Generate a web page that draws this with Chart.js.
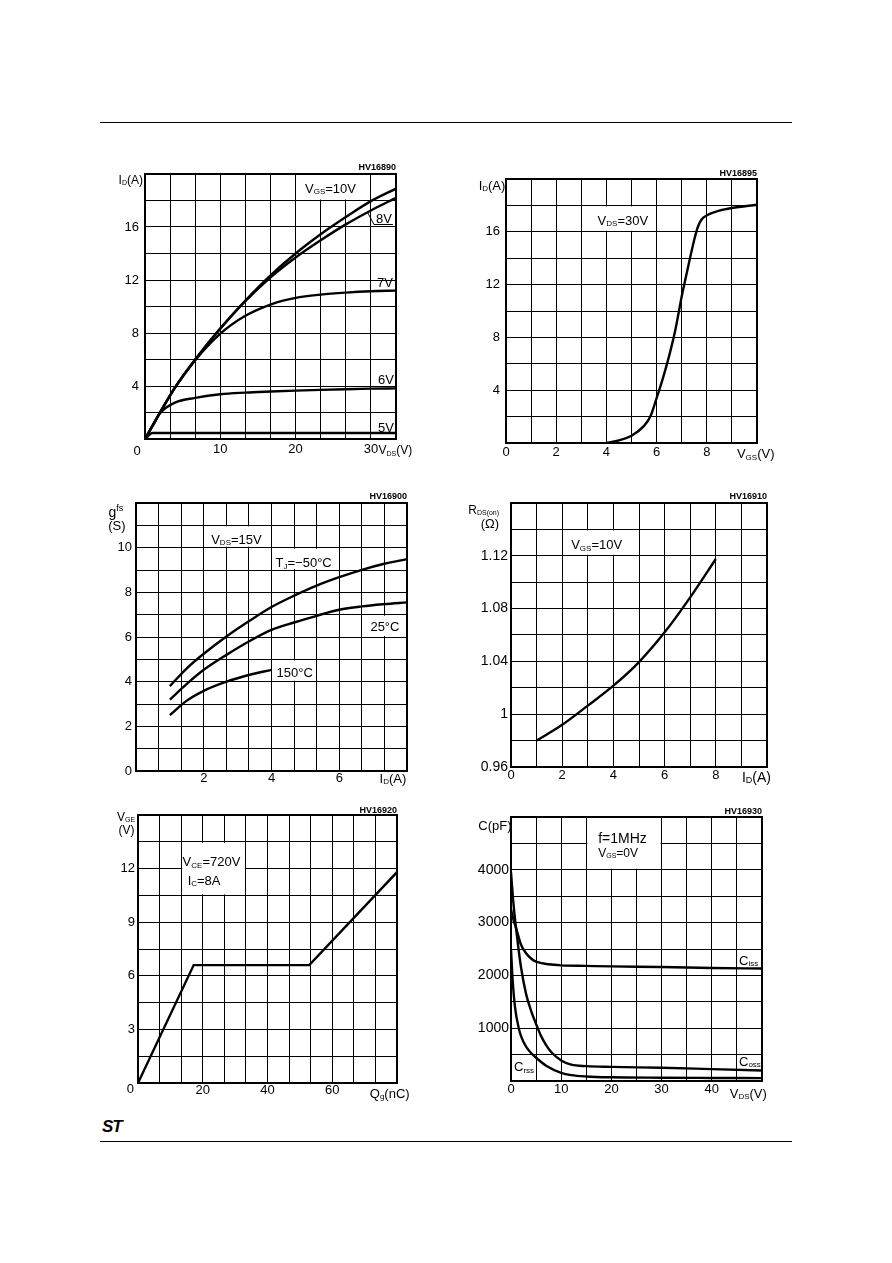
<!DOCTYPE html>
<html>
<head>
<meta charset="utf-8">
<script src="https://cdn.jsdelivr.net/npm/chart.js@4.4.1/dist/chart.umd.min.js"></script>
<style>
  body { margin: 0; background: #fff; width: 892px; height: 1263px; position: relative; overflow: hidden; }
  .rule { position: absolute; left: 100px; width: 692px; height: 1px; background: #000; }
  canvas { position: absolute; }
  .logo { position: absolute; left: 102px; top: 1117px; font: italic bold 17px "Liberation Sans", Arial, sans-serif; letter-spacing: -1px; }
</style>
</head>
<body>
<div class="rule" style="top:122px"></div>
<canvas id="c1"></canvas>
<canvas id="c2"></canvas>
<canvas id="c3"></canvas>
<canvas id="c4"></canvas>
<canvas id="c5"></canvas>
<canvas id="c6"></canvas>
<div class="rule" style="top:1141px"></div>
<div class="logo">ST</div>
<script>
// ---- 出力特性 ID - VDS
const outVds = [0, 1, 2, 4, 6.67, 10, 13.33, 16.67, 20, 23.33, 26.67, 30, 33.33];
const outId10V = [0, 1.0, 2.0, 3.9, 6.0, 8.35, 10.45, 12.35, 14.0, 15.45, 16.75, 17.95, 18.9];
const outId8V = [0, 1.0, 2.0, 3.9, 6.0, 8.32, 10.4, 12.2, 13.7, 15.0, 16.2, 17.25, 18.2];
const outId7V = [0, 1.0, 2.0, 3.9, 5.95, 7.95, 9.3, 10.15, 10.65, 10.9, 11.05, 11.15, 11.2];
const outId6V = [0, 1.0, 1.95, 2.75, 3.1, 3.38, 3.5, 3.58, 3.65, 3.71, 3.76, 3.8, 3.82];
const outId5V = [0, 0.45, 0.45, 0.45, 0.45, 0.45, 0.45, 0.45, 0.45, 0.45, 0.45, 0.45, 0.45];
const outXLabels = [10, 20, 30];
const outYLabels = [4, 8, 12, 16];

// ---- 伝達特性 ID - VGS
const trVgs = [4, 4.5, 5, 5.5, 5.75, 6, 6.25, 6.5, 6.75, 7, 7.25, 7.5, 7.65, 7.8, 8, 8.5, 9, 10];
const trId = [0, 0.2, 0.55, 1.3, 2.0, 3.4, 4.9, 6.6, 8.6, 11.1, 13.3, 15.4, 16.4, 16.95, 17.25, 17.6, 17.8, 18.05];
const trXLabels = [0, 2, 4, 6, 8];
const trYLabels = [4, 8, 12, 16];

// ---- 相互コンダクタンス gfs - ID
const gfsId = [1, 1.5, 2, 2.67, 3.33, 4, 4.67, 5.33, 6, 6.67, 7.33, 8];
const gfsM50 = [3.8, 4.6, 5.25, 6.02, 6.7, 7.34, 7.85, 8.3, 8.68, 9.01, 9.28, 9.49];
const gfs25 = [3.2, 3.9, 4.53, 5.2, 5.8, 6.32, 6.65, 6.95, 7.22, 7.37, 7.47, 7.55];
const gfsId150 = [1, 1.5, 2, 2.67, 3.33, 4];
const gfs150 = [2.5, 3.15, 3.59, 4.0, 4.3, 4.53];
const gfsXLabels = [2, 4, 6];
const gfsYLabels = [0, 2, 4, 6, 8, 10];

// ---- オン抵抗 RDS(on) - ID
const ronId = [1, 2, 3, 4, 5, 6, 7, 8];
const ronR = [0.98, 0.992, 1.0065, 1.0216, 1.0395, 1.062, 1.0885, 1.1176];
const ronXLabels = [0, 2, 4, 6, 8];
const ronYLabels = [0.96, 1, 1.04, 1.08, 1.12];

// ---- ゲート電荷 VGE - Qg
const qgQ = [0, 17.2, 52.9, 80];
const qgV = [0, 6.6, 6.6, 11.8];
const qgXLabels = [20, 40, 60];
const qgYLabels = [3, 6, 9, 12];

// ---- 容量 C - VDS
const cissV = [0, 0.5, 1, 2, 3, 4, 5, 7.5, 10, 15, 20, 30, 40, 50];
const cissC = [3250, 3050, 2900, 2580, 2420, 2320, 2260, 2210, 2190, 2180, 2170, 2160, 2140, 2130];
const cossV = [0, 0.5, 1, 1.5, 2, 3, 4, 5, 6, 7, 8, 10, 12, 15, 20, 30, 40, 50];
const cossC = [3950, 3350, 2900, 2500, 2150, 1650, 1330, 1080, 850, 680, 550, 390, 310, 282, 268, 250, 225, 200];
const crssV = [0, 0.3, 0.8, 1.5, 2, 3, 4, 5, 7, 10, 12, 15, 20, 30, 40, 50];
const crssC = [2500, 1950, 1400, 1020, 850, 650, 530, 440, 290, 155, 112, 86, 70, 62, 58, 55];
const capXLabels = [0, 10, 20, 30, 40];
const capYLabels = [1000, 2000, 3000, 4000];

const FONT = '"Liberation Sans", Arial, Helvetica, sans-serif';
Chart.defaults.font.family = FONT;
Chart.defaults.color = '#000';

// プロット領域の周りの余白
const M = { l: 50, t: 30, r: 40, b: 30 };
const YW = 40, XH = 20;

function gridValues(min, max, step) {
  const a = [];
  for (let i = 0; min + i * step <= max + 1e-9; i++) a.push(min + i * step);
  return a;
}

function axis(o, horizontal) {
  const lines = gridValues(o.min, o.max, o.step);
  return {
    type: 'linear', min: o.min, max: o.max,
    afterBuildTicks: s => { s.ticks = lines.map(v => ({ value: v })); },
    afterFit: s => {
      if (horizontal) s.height = XH; else s.width = YW;
      s.paddingLeft = s.paddingRight = s.paddingTop = s.paddingBottom = 0;
    },
    grid: { color: '#000', lineWidth: 1, drawTicks: false },
    border: { display: false },
    ticks: {
      autoSkip: false, maxRotation: 0, padding: o.pad, color: '#000',
      font: { size: o.size || 13 },
      callback: v => o.labels.some(l => Math.abs(l - v) < 1e-6) ? String(+v.toFixed(2)) : ''
    }
  };
}

// 添字付きテキスト: _{..} 下付き, ^{..} 上付き
function drawRich(ctx, str, x, y, size, align, bold) {
  const parts = [];
  const re = /([_^])\{([^}]*)\}/g;
  let last = 0, m;
  while ((m = re.exec(str))) {
    if (m.index > last) parts.push({ t: str.slice(last, m.index), k: '' });
    parts.push({ t: m[2], k: m[1] });
    last = re.lastIndex;
  }
  if (last < str.length) parts.push({ t: str.slice(last), k: '' });
  const small = Math.round(size * 0.62);
  const fontOf = k => (bold ? 'bold ' : '') + (k ? small : size) + 'px ' + FONT;
  let w = 0;
  parts.forEach(p => { ctx.font = fontOf(p.k); p.w = ctx.measureText(p.t).width; w += p.w; });
  let cx = align === 'right' ? x - w : align === 'center' ? x - w / 2 : x;
  const base = y + size * 0.36;
  ctx.textBaseline = 'alphabetic';
  ctx.textAlign = 'left';
  ctx.fillStyle = '#000';
  parts.forEach(p => {
    ctx.font = fontOf(p.k);
    const dy = p.k === '_' ? size * 0.1 : p.k === '^' ? -size * 0.38 : 0;
    ctx.fillText(p.t, cx, base + dy);
    cx += p.w;
  });
}

const sheetPlugin = {
  id: 'sheet',
  beforeDatasetsDraw(chart, args, o) {
    const { ctx, scales: { x, y } } = chart;
    ctx.save();
    ctx.fillStyle = '#fff';
    (o.boxes || []).forEach(([x0, x1, y0, y1]) => {
      const l = x.getPixelForValue(x0), r = x.getPixelForValue(x1);
      const t = y.getPixelForValue(y1), b = y.getPixelForValue(y0);
      ctx.fillRect(l + 1, t + 1, r - l - 2, b - t - 2);
    });
    ctx.restore();
  },
  afterDatasetsDraw(chart, args, o) {
    const { ctx, chartArea: a, scales: { x, y } } = chart;
    ctx.save();
    ctx.strokeStyle = '#000';
    ctx.lineWidth = 2;
    ctx.strokeRect(a.left, a.top, a.right - a.left, a.bottom - a.top);
    ctx.lineWidth = 1;
    (o.lines || []).forEach(pl => {
      ctx.beginPath();
      pl.forEach(([px, py], i) => {
        const X = x.getPixelForValue(px), Y = y.getPixelForValue(py);
        i ? ctx.lineTo(X, Y) : ctx.moveTo(X, Y);
      });
      ctx.stroke();
    });
    (o.texts || []).forEach(t => drawRich(ctx, t.s, x.getPixelForValue(t.x), y.getPixelForValue(t.y), t.size || 13, t.align || 'left', t.bold));
    ctx.restore();
  }
};
Chart.register(sheetPlugin);

function curve(xs, ys, straight) {
  return {
    data: xs.map((x, i) => ({ x, y: ys[i] })),
    borderColor: '#000', borderWidth: 2.4, pointRadius: 0, fill: false,
    tension: straight ? 0 : 0.4,
    cubicInterpolationMode: straight ? 'default' : 'monotone'
  };
}

function makeChart(id, area, xAx, yAx, datasets, sheet) {
  const c = document.getElementById(id);
  const w = area[2] - area[0] + M.l + M.r, h = area[3] - area[1] + M.t + M.b;
  c.width = w; c.height = h;
  c.style.left = (area[0] - M.l) + 'px';
  c.style.top = (area[1] - M.t) + 'px';
  c.style.width = w + 'px';
  c.style.height = h + 'px';
  return new Chart(c, {
    type: 'line',
    data: { datasets },
    options: {
      responsive: false, animation: false, devicePixelRatio: 1,
      layout: { padding: { left: M.l - YW, top: M.t, right: M.r, bottom: M.b - XH } },
      plugins: { legend: { display: false }, tooltip: { enabled: false }, sheet },
      scales: { x: axis(xAx, true), y: axis(yAx, false) }
    }
  });
}

// 1. 出力特性
makeChart('c1', [145, 174, 396, 439],
  { min: 0, max: 100 / 3, step: 10 / 3, labels: outXLabels, pad: 3 },
  { min: 0, max: 20, step: 2, labels: outYLabels, pad: 6 },
  [curve(outVds, outId10V), curve(outVds, outId8V), curve(outVds, outId7V), curve(outVds, outId6V), curve(outVds, outId5V)],
  {
    boxes: [[20, 30, 18, 20]],
    lines: [[[29.6, 17.06], [30.4, 16.19], [32.93, 16.19]]],
    texts: [
      { s: 'HV16890', x: 100 / 3, y: 20.55, align: 'right', size: 9, bold: true },
      { s: 'I_{D}(A)', x: -0.27, y: 19.55, align: 'right', size: 12 },
      { s: 'V_{GS}=10V', x: 21.25, y: 18.94 },
      { s: '8V', x: 30.68, y: 16.68 },
      { s: '7V', x: 30.8, y: 11.85 },
      { s: '6V', x: 30.94, y: 4.53 },
      { s: '5V', x: 30.94, y: 0.9 },
      { s: '0', x: -1.06, y: -0.83, align: 'center' },
      { s: 'V_{DS}(V)', x: 31.0, y: -0.83, size: 12 }
    ]
  });

// 2. 伝達特性
makeChart('c2', [506, 179, 757, 443],
  { min: 0, max: 10, step: 1, labels: trXLabels, pad: 2 },
  { min: 0, max: 20, step: 2, labels: trYLabels, pad: 6 },
  [curve(trVgs, trId)],
  {
    boxes: [[3, 6, 16, 18]],
    texts: [
      { s: 'HV16895', x: 10, y: 20.49, align: 'right', size: 9, bold: true },
      { s: 'I_{D}(A)', x: -1.09, y: 19.55 },
      { s: 'V_{DS}=30V', x: 3.65, y: 16.9 },
      { s: 'V_{GS}(V)', x: 9.2, y: -0.8 }
    ]
  });

// 3. 相互コンダクタンス
makeChart('c3', [136, 503, 407, 771],
  { min: 0, max: 8, step: 2 / 3, labels: gfsXLabels, pad: 0 },
  { min: 0, max: 12, step: 1, labels: gfsYLabels, pad: 4 },
  [curve(gfsId, gfsM50), curve(gfsId, gfs25), curve(gfsId150, gfs150)],
  {
    boxes: [[2, 4, 10, 11], [4, 6, 9, 10], [20 / 3, 8, 6, 7], [4, 16 / 3, 4, 5]],
    texts: [
      { s: 'HV16900', x: 8, y: 12.31, align: 'right', size: 9, bold: true },
      { s: 'g^{fs}', x: -0.81, y: 11.61, size: 14 },
      { s: '(S)', x: -0.82, y: 11.02 },
      { s: 'V_{DS}=15V', x: 2.22, y: 10.38 },
      { s: 'T_{J}=\u221250\u00b0C', x: 4.12, y: 9.33 },
      { s: '25\u00b0C', x: 6.92, y: 6.46 },
      { s: '150\u00b0C', x: 4.15, y: 4.4 },
      { s: 'I_{D}(A)', x: 7.19, y: -0.33 }
    ]
  });

// 4. オン抵抗
makeChart('c4', [511, 503, 767, 767],
  { min: 0, max: 10, step: 1, labels: ronXLabels, pad: 1 },
  { min: 0.96, max: 1.16, step: 0.02, labels: ronYLabels, pad: 3, size: 14 },
  [curve(ronId, ronR)],
  {
    boxes: [[2, 5, 1.12, 1.14]],
    texts: [
      { s: 'HV16910', x: 10, y: 1.1655, align: 'right', size: 9, bold: true },
      { s: 'R_{DS(on)}', x: -1.67, y: 1.155, size: 12 },
      { s: '(\u03a9)', x: -1.18, y: 1.1449 },
      { s: 'V_{GS}=10V', x: 2.35, y: 1.1284 },
      { s: 'I_{D}(A)', x: 9.02, y: 0.9524, size: 14 }
    ]
  });

// 5. ゲート電荷
makeChart('c5', [138, 815, 397, 1083],
  { min: 0, max: 80, step: 20 / 3, labels: qgXLabels, pad: 0 },
  { min: 0, max: 15, step: 1.5, labels: qgYLabels, pad: 3 },
  [curve(qgQ, qgV, true)],
  {
    boxes: [[40 / 3, 100 / 3, 10.5, 13.5]],
    texts: [
      { s: 'HV16920', x: 80, y: 15.28, align: 'right', size: 9, bold: true },
      { s: 'V_{GE}', x: -6.49, y: 14.89, size: 12 },
      { s: '(V)', x: -6.0, y: 14.2, size: 12 },
      { s: 'V_{CE}=720V', x: 13.78, y: 12.39 },
      { s: 'I_{C}=8A', x: 15.33, y: 11.36 },
      { s: 'Q_{g}(nC)', x: 71.6, y: -0.56 },
      { s: '0', x: -2.38, y: -0.32, align: 'center' }
    ]
  });

// 6. 容量特性
makeChart('c6', [511, 817, 762, 1081],
  { min: 0, max: 50, step: 5, labels: capXLabels, pad: 1 },
  { min: 0, max: 5000, step: 500, labels: capYLabels, pad: 2, size: 14 },
  [curve(cissV, cissC), curve(cossV, cossC), curve(crssV, crssC)],
  {
    boxes: [[15, 30, 4000, 5000]],
    texts: [
      { s: 'HV16930', x: 50, y: 5127, align: 'right', size: 9, bold: true },
      { s: 'C(pF)', x: -6.5, y: 4843 },
      { s: 'f=1MHz', x: 17.37, y: 4610, size: 14 },
      { s: 'V_{GS}=0V', x: 17.37, y: 4319, size: 12 },
      { s: 'C_{iss}', x: 45.42, y: 2290 },
      { s: 'C_{oss}', x: 45.42, y: 370 },
      { s: 'C_{rss}', x: 0.6, y: 270 },
      { s: 'V_{DS}(V)', x: 43.57, y: -233 }
    ]
  });
</script>
</body>
</html>
